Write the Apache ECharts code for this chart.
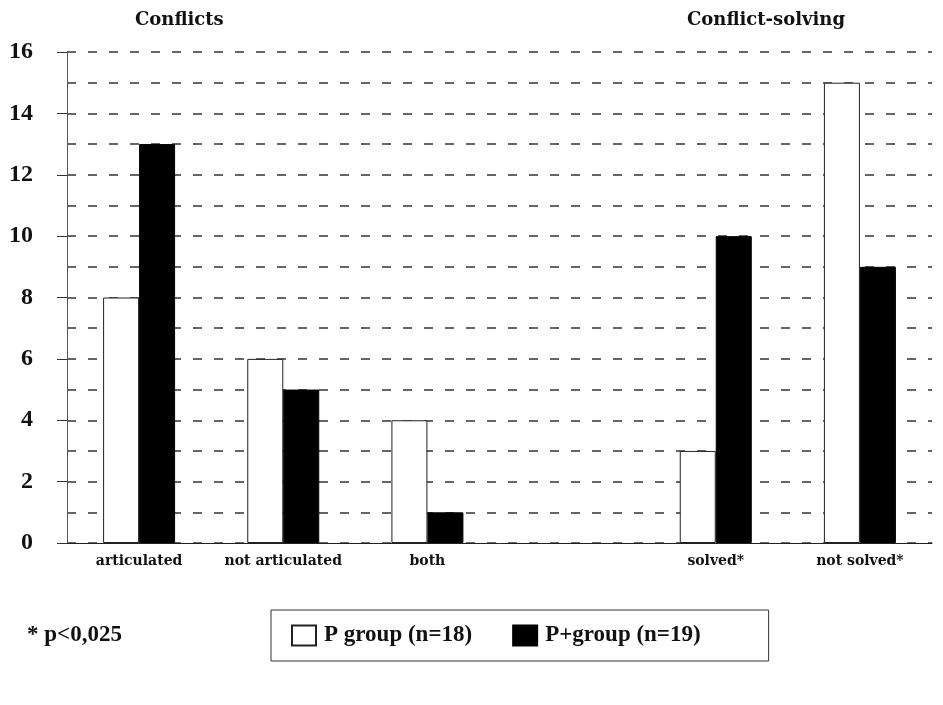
<!DOCTYPE html>
<html>
<head>
<meta charset="utf-8">
<script src="https://cdn.jsdelivr.net/npm/echarts@6/dist/echarts.min.js"></script>
<style>html,body{margin:0;padding:0;background:#fff}#c{width:943px;height:705px}</style>
</head>
<body>
<div id="c"></div>
<script>
var categories = ['articulated', 'not articulated', 'both', '', 'solved*', 'not solved*'];
var pGroup = [8, 6, 4, null, 3, 15];
var pPlusGroup = [13, 5, 1, null, 10, 9];
var seriesNames = ['P group (n=18)', 'P+group (n=19)'];
var panelTitles = ['Conflicts', 'Conflict-solving'];
var footnote = '* p<0,025';

var serif = '"Liberation Serif", "DejaVu Serif", serif';
var wideSerif = '"DejaVu Serif", serif';
var chart = echarts.init(document.getElementById('c'));
chart.setOption({
  animation: false,
  backgroundColor: '#fff',
  title: [
    {text: panelTitles[0], left: 130, top: 6, textStyle: {fontFamily: wideSerif, fontWeight: 'bold', fontSize: 18, color: '#111'}},
    {text: panelTitles[1], left: 682, top: 6, textStyle: {fontFamily: wideSerif, fontWeight: 'bold', fontSize: 18, color: '#111'}},
    {text: footnote, left: 22, top: 619, textStyle: {fontFamily: serif, fontWeight: 'bold', fontSize: 23, color: '#111'}}
  ],
  legend: {
    left: 271, top: 610,
    data: seriesNames,
    icon: 'rect',
    itemWidth: 24, itemHeight: 20,
    itemGap: 40,
    borderColor: '#333', borderWidth: 1,
    padding: [14, 68, 14, 20],
    textStyle: {fontFamily: serif, fontSize: 23, color: '#111', fontWeight: 'bold', padding: [0, 0, 0, 3]}
  },
  grid: {left: 67, right: 11, top: 52, bottom: 162},
  xAxis: {
    type: 'category',
    data: categories,
    axisLine: {lineStyle: {color: '#222', width: 1}},
    axisTick: {alignWithLabel: true, length: 5, lineStyle: {color: '#222'}},
    axisLabel: {margin: 11, fontFamily: wideSerif, fontWeight: 'bold', fontSize: 14, color: '#111', interval: 0},
    splitLine: {show: false}
  },
  yAxis: {
    type: 'value',
    min: 0, max: 16, interval: 2,
    axisLine: {show: true, lineStyle: {color: '#555', width: 1}},
    axisTick: {show: true, length: 10, lineStyle: {color: '#333'}},
    axisLabel: {margin: 34, fontFamily: serif, fontWeight: 'bold', fontSize: 24, color: '#111'},
    splitLine: {show: true, lineStyle: {color: '#333', width: 1.5, type: [9, 12]}},
    minorTick: {show: false, splitNumber: 2},
    minorSplitLine: {show: true, lineStyle: {color: '#333', width: 1.5, type: [9, 12]}}
  },
  series: [
    {name: seriesNames[0], type: 'bar', data: pGroup, barWidth: 36, barGap: '0%',
     itemStyle: {color: '#fff', borderColor: '#222', borderWidth: 1}},
    {name: seriesNames[1], type: 'bar', data: pPlusGroup, barWidth: 36,
     itemStyle: {color: '#000', borderColor: '#000', borderWidth: 1}}
  ]
});
</script>
</body>
</html>
